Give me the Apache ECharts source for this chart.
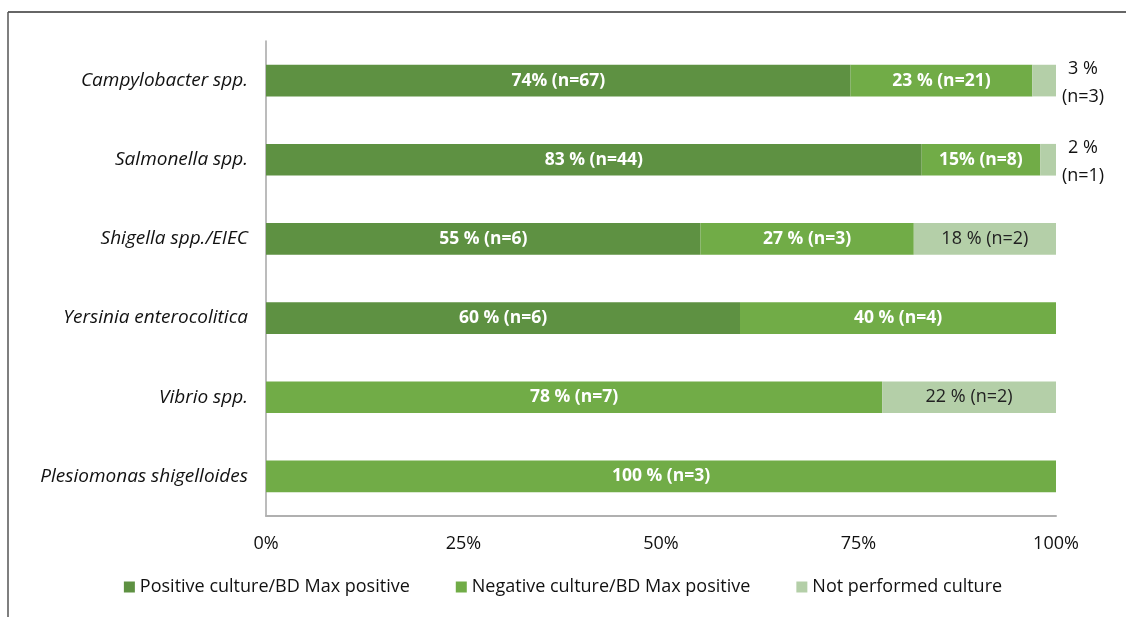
<!DOCTYPE html>
<html>
<head>
    <meta charset="UTF-8">
    <title>Culture vs BD Max</title>
    <script src="https://cdn.jsdelivr.net/npm/echarts@6/dist/echarts.min.js"></script>
    <style>
        html, body { margin: 0; padding: 0; background: #fff; }
        #chart { width: 1126px; height: 617px; }
    </style>
</head>
<body>
    <div id="chart"></div>

    <script>
        // categories, top to bottom
        var categories = ['Campylobacter spp.', 'Salmonella spp.', 'Shigella spp./EIEC',
                          'Yersinia enterocolitica', 'Vibrio spp.', 'Plesiomonas shigelloides'];
        var seriesNames = ['Positive culture\u2215BD Max positive', 'Negative culture\u2215BD Max positive', 'Not performed culture'];

        var positive = [74, 83, 55, 60, 0, 0];
        var negative = [23, 15, 27, 40, 78, 100];
        var notDone = [3, 2, 18, 0, 22, 0];

        var positiveLabels = ['74% (n=67)', '83 % (n=44)', '55 % (n=6)', '60 % (n=6)', '', ''];
        var negativeLabels = ['23 % (n=21)', '15% (n=8)', '27 % (n=3)', '40 % (n=4)', '78 % (n=7)', '100 % (n=3)'];
        var notDoneLabels = ['3 %\n(n=3)', '2 %\n(n=1)', '18 % (n=2)', '', '22 % (n=2)', ''];

        var xTicks = ['0%', '25%', '50%', '75%', '100%'];

        var colors = ['#5e9142', '#71ac47', '#b4cfa8'];
        var fontFam = '"Open Sans", "Noto Sans", sans-serif';

        var chart = echarts.init(document.getElementById('chart'), null, {renderer: 'canvas'});

        function mkSeries(idx, values, labels, labelColor, bold) {
            return {
                name: seriesNames[idx],
                type: 'bar',
                stack: 'total',
                barWidth: '40%',
                itemStyle: { color: colors[idx] },
                label: {
                    show: true,
                    position: 'inside',
                    color: labelColor,
                    fontFamily: fontFam,
                    fontSize: bold ? 17.5 : 18,
                    fontWeight: bold ? 'bold' : 'normal',
                    formatter: function (p) { return labels[p.dataIndex]; }
                },
                data: values.map(function (v, i) {
                    var d = { value: v };
                    // tiny segments get their label outside on the right
                    if (idx === 2 && v > 0 && v < 5) {
                        d.label = {
                            position: 'right',
                            distance: 5,
                            align: 'center',
                            offset: [22, 2],
                            color: '#111',
                            lineHeight: 28,
                            fontSize: 18
                        };
                    }
                    return d;
                })
            };
        }

        var option = {
            animation: false,
            color: colors,
            grid: { left: 266, right: 70, top: 41, bottom: 101, containLabel: false },
            legend: {
                bottom: 16,
                left: 'center',
                itemWidth: 11,
                itemHeight: 11,
                itemGap: 46,
                icon: 'rect',
                textStyle: { fontFamily: fontFam, fontSize: 18, color: '#111' },
                data: seriesNames
            },
            xAxis: {
                type: 'value',
                min: 0,
                max: 100,
                interval: 25,
                axisLine: { show: true, lineStyle: { color: '#b0b0b0', width: 2 } },
                axisTick: { show: false },
                splitLine: { show: false },
                axisLabel: {
                    margin: 19,
                    fontFamily: fontFam,
                    fontSize: 18,
                    color: '#111',
                    formatter: function (v) { return xTicks[v / 25]; }
                }
            },
            yAxis: {
                type: 'category',
                inverse: true,
                data: categories,
                axisLine: { show: true, lineStyle: { color: '#a6a6a6', width: 1.5 } },
                axisTick: { show: false },
                axisLabel: {
                    margin: 18,
                    fontFamily: fontFam,
                    fontSize: 19,
                    fontStyle: 'italic',
                    color: '#111'
                }
            },
            graphic: [
                { type: 'line', shape: { x1: 8, y1: 12, x2: 1126, y2: 12 }, style: { stroke: '#333', lineWidth: 1.5 } },
                { type: 'line', shape: { x1: 8, y1: 12, x2: 8, y2: 617 }, style: { stroke: '#555', lineWidth: 1.5 } }
            ],
            series: [
                mkSeries(0, positive, positiveLabels, '#fff', true),
                mkSeries(1, negative, negativeLabels, '#fff', true),
                mkSeries(2, notDone, notDoneLabels, '#222', false)
            ]
        };

        chart.setOption(option);
    </script>
</body>
</html>
